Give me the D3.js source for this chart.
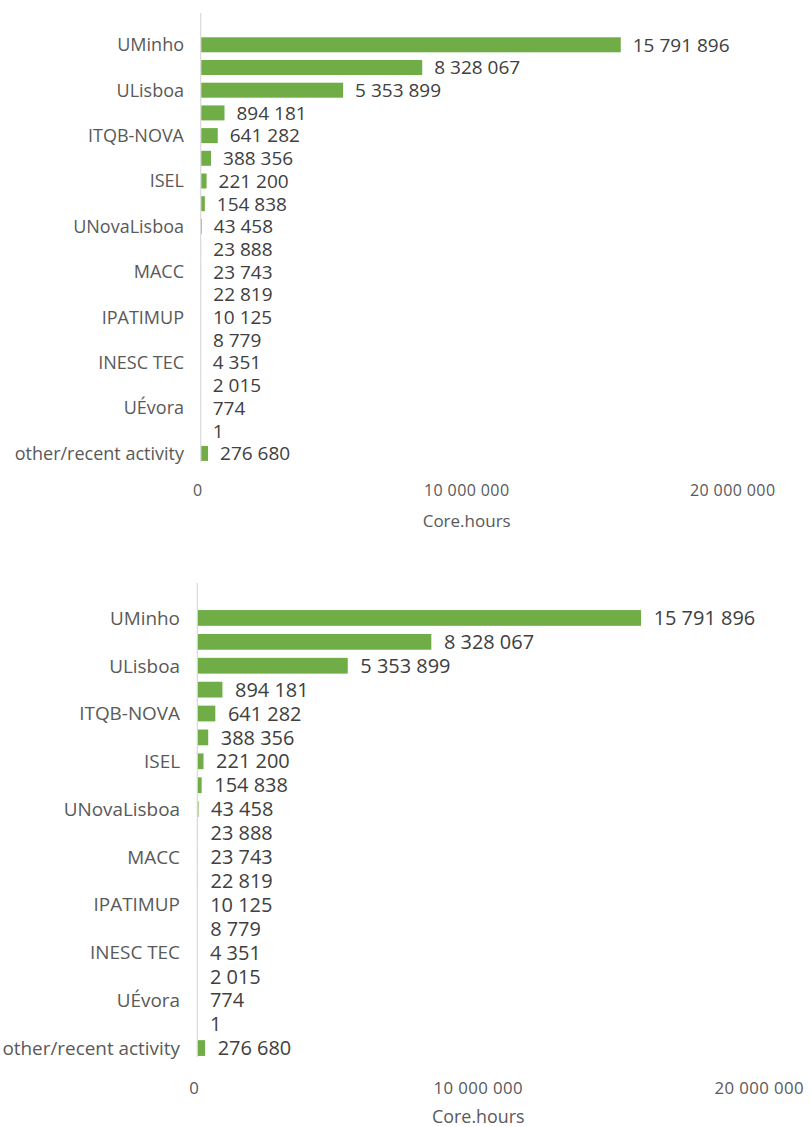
<!DOCTYPE html>
<html>
  <head>
    <meta charset="utf-8" />
    <title>Core.hours per institution</title>
    <script src="https://cdn.jsdelivr.net/npm/d3@7"></script>
    <style>
      html, body {
        margin: 0;
        padding: 0;
        background: #fff;
      }
      svg {
        display: block;
        font-family: "Open Sans", sans-serif;
      }
      .cat {
        fill: #595959;
        text-anchor: end;
      }
      .val {
        fill: #404040;
      }
      .tick-lbl {
        fill: #595959;
        text-anchor: middle;
        letter-spacing: 0.4px;
      }
      .title {
        fill: #595959;
        text-anchor: middle;
      }
    </style>
  </head>
<body>

<svg id="chart" width="812" height="1127"></svg>

<script>

// category labels (Excel only showed every second one; the hidden ones are blank)
let categories = ["UMinho", "", "ULisboa", "", "ITQB-NOVA", "", "ISEL", "",
                  "UNovaLisboa", "", "MACC", "", "IPATIMUP", "", "INESC TEC", "",
                  "UÉvora", "", "other/recent activity"];

let coreHours = [15791896, 8328067, 5353899, 894181, 641282, 388356, 221200, 154838,
                 43458, 23888, 23743, 22819, 10125, 8779, 4351, 2015,
                 774, 1, 276680];

let xTicks = [0, 10000000, 20000000];
let axisTitle = "Core.hours";

let fmt = d3.formatLocale({decimal: ".", thousands: " ", grouping: [3], currency: ["", ""]}).format(",");

// the picture holds the same chart twice, the lower one slightly bigger
let panels = [
  {x0: 200.7, x1: 732.7, y0: 33.45, y1: 464.75, axisTop: 13, axisBottom: 462,
   catX: 184, tickY: 490, titleY: 521, scale: 1},
  {x0: 197.3, x1: 759.3, y0: 606, y1: 1060, axisTop: 583, axisBottom: 1057,
   catX: 180, tickY: 1088, titleY: 1117, scale: 1.05}
];

let svg = d3.select('#chart');

panels.forEach(p => drawPanel(p));

function drawPanel(p) {
  let g = svg.append('g');
  let idx = d3.range(categories.length);

  let x = d3.scaleLinear().domain([0, 20000000]).range([p.x0, p.x1]);
  let y = d3.scaleBand().domain(idx).range([p.y0, p.y1])
            .paddingInner(0.34).paddingOuter(0.17);

  // vertical category axis line
  g.append('line')
   .attr('x1', p.x0).attr('x2', p.x0)
   .attr('y1', p.axisTop).attr('y2', p.axisBottom)
   .attr('stroke', '#d9d9d9')
   .attr('stroke-width', 1.2);

  g.selectAll('rect.bar')
   .data(idx)
   .enter()
   .append('rect')
   .attr('class', 'bar')
   .attr('x', p.x0 + 0.6)
   .attr('y', i => y(i))
   .attr('width', i => Math.max(0, x(coreHours[i]) - p.x0 - 0.6))
   .attr('height', y.bandwidth())
   .attr('fill', '#70ad47');

  g.selectAll('text.val')
   .data(idx)
   .enter()
   .append('text')
   .attr('class', 'val')
   .attr('x', i => x(coreHours[i]) + 12 * p.scale)
   .attr('y', i => y(i) + y.bandwidth() / 2)
   .attr('dy', '0.36em')
   .style('font-size', (19 * p.scale) + 'px')
   .text(i => fmt(coreHours[i]));

  g.selectAll('text.cat')
   .data(idx.filter(i => categories[i] !== ""))
   .enter()
   .append('text')
   .attr('class', 'cat')
   .attr('x', p.catX)
   .attr('y', i => y(i) + y.bandwidth() / 2)
   .attr('dy', '0.36em')
   .style('font-size', (18 * p.scale) + 'px')
   .text(i => categories[i]);

  g.selectAll('text.tick-lbl')
   .data(xTicks)
   .enter()
   .append('text')
   .attr('class', 'tick-lbl')
   .attr('x', d => x(d) - (d === 0 ? 3 : 0))
   .attr('y', p.tickY)
   .attr('dy', '0.36em')
   .style('font-size', (16 * p.scale) + 'px')
   .text(d => fmt(d));

  g.append('text')
   .attr('class', 'title')
   .attr('x', x(10000000))
   .attr('y', p.titleY)
   .attr('dy', '0.36em')
   .style('font-size', (17 * p.scale) + 'px')
   .text(axisTitle);
}

</script>

</body>
</html>
